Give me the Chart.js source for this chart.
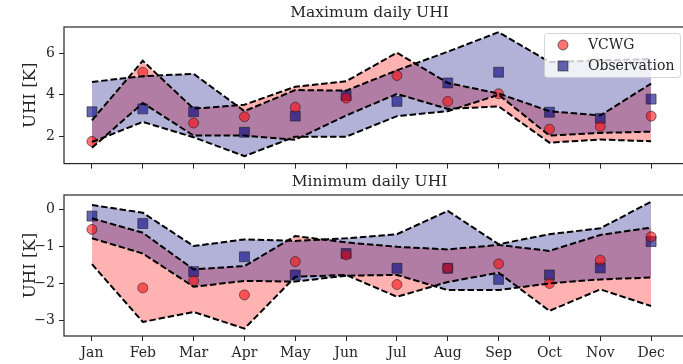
<!DOCTYPE html>
<html>
<head>
<meta charset="utf-8">
<script src="https://cdn.jsdelivr.net/npm/chart.js"></script>
<style>
  body { margin: 0; background: #fff; }
  #wrap { position: relative; width: 683px; height: 364px; overflow: hidden; }
  canvas { position: absolute; left: 0; }
  #maxChart { top: 0; }
  #minChart { top: 164px; }
</style>
</head>
<body>
<div id="wrap">
  <canvas id="maxChart" width="683" height="176"></canvas>
  <canvas id="minChart" width="683" height="200"></canvas>
</div>
<script>
const months = ['Jan', 'Feb', 'Mar', 'Apr', 'May', 'Jun', 'Jul', 'Aug', 'Sep', 'Oct', 'Nov', 'Dec'];

// maximum daily UHI [K]
const vcwgMax = [1.75, 5.09, 2.64, 2.94, 3.40, 3.84, 4.93, 3.68, 4.05, 2.34, 2.47, 2.97];
const obsMax = [3.18, 3.32, 3.18, 2.19, 2.97, 3.96, 3.68, 4.57, 5.09, 3.16, 2.86, 3.79];
const vcwgMaxHi = [2.77, 5.64, 3.33, 3.52, 4.39, 4.65, 6.03, 4.57, 4.06, 3.21, 3.00, 4.54];
const vcwgMaxLo = [1.44, 3.60, 2.03, 2.03, 1.83, 3.00, 4.04, 3.32, 3.44, 1.69, 1.84, 1.76];
const obsMaxHi = [4.62, 4.90, 5.01, 3.21, 4.23, 4.20, 5.18, 6.08, 7.02, 5.58, 5.66, 5.73];
const obsMaxLo = [1.72, 2.69, 1.95, 1.04, 1.98, 1.98, 2.97, 3.21, 4.00, 2.03, 2.16, 2.22];

// minimum daily UHI [K]
const vcwgMin = [-0.55, -2.13, -1.94, -2.32, -1.42, -1.24, -2.04, -1.60, -1.48, -2.01, -1.38, -0.75];
const obsMin = [-0.19, -0.39, -1.69, -1.29, -1.78, -1.20, -1.60, -1.60, -1.90, -1.78, -1.59, -0.88];
const vcwgMinHi = [-0.25, -0.64, -1.63, -1.54, -0.73, -0.90, -1.02, -1.09, -0.97, -1.13, -0.70, -0.50];
const vcwgMinLo = [-1.49, -3.05, -2.78, -3.23, -1.83, -1.78, -2.37, -1.97, -1.72, -2.75, -2.17, -2.62];
const obsMinHi = [0.11, -0.10, -1.00, -0.82, -0.86, -0.79, -0.68, -0.05, -0.95, -0.68, -0.52, 0.20];
const obsMinLo = [-0.79, -1.20, -2.10, -1.94, -1.96, -1.80, -1.78, -2.19, -2.19, -2.01, -1.90, -1.85];

const FONT = 'DejaVu Serif';
const INK = '#262626';
const RED_PT = 'rgba(255, 0, 0, 0.55)';
const BLUE_PT = 'rgba(0, 0, 128, 0.6)';
const EDGE = 'rgba(30, 30, 30, 0.6)';

const pts = vals => vals.map((v, i) => ({ x: i, y: v }));

function band(vals, fillColor, order, fillNext) {
  return {
    data: pts(vals),
    borderColor: '#000',
    borderWidth: 2,
    borderDash: [6.5, 2.8],
    pointRadius: 0,
    tension: 0,
    fill: fillNext ? '+1' : false,
    backgroundColor: fillColor,
    order
  };
}

function makeDatasets(vcwg, obs, vHi, vLo, oHi, oLo) {
  return [
    { label: 'VCWG', data: pts(vcwg), showLine: false, pointStyle: 'circle', pointRadius: 5,
      backgroundColor: RED_PT, borderColor: EDGE, borderWidth: 1, order: 4 },
    { label: 'Observation', data: pts(obs), showLine: false, pointStyle: 'rect', pointRadius: 7,
      backgroundColor: BLUE_PT, borderColor: EDGE, borderWidth: 1, order: 5 },
    band(vHi, 'rgba(255, 0, 0, 0.3)', 3, true),
    band(vLo, 'rgba(255, 0, 0, 0.3)', 3, false),
    band(oHi, 'rgba(0, 0, 128, 0.3)', 2, true),
    band(oLo, 'rgba(0, 0, 128, 0.3)', 2, false)
  ];
}

function makeScales(yMin, yMax, step, showMonths, xHeight) {
  return {
    x: {
      type: 'linear', min: -0.55, max: 11.47,
      afterFit(s) { s.height = xHeight; },
      border: { display: false },
      grid: { drawOnChartArea: false, drawTicks: true, tickLength: 5, color: INK, lineWidth: 1 },
      ticks: {
        display: showMonths, stepSize: 1, includeBounds: false, autoSkip: false, maxRotation: 0,
        padding: 4, color: INK, font: { family: FONT, size: 14 },
        callback: v => months[v]
      }
    },
    y: {
      min: yMin, max: yMax,
      afterFit(s) { s.width = 64; },
      border: { display: false },
      grid: { drawOnChartArea: false, drawTicks: true, tickLength: 5, color: INK, lineWidth: 1 },
      ticks: {
        stepSize: step, includeBounds: false, padding: 4, color: INK,
        font: { family: FONT, size: 14 },
        callback: v => String(v).replace('-', '\u2212')
      },
      title: {
        display: true, text: 'UHI [K]', color: INK,
        font: { family: FONT, size: 16.5 }, padding: { top: 21, bottom: 0 }
      }
    }
  };
}

// axes box drawn over the data like matplotlib spines
const frame = {
  id: 'frame',
  afterDatasetsDraw(chart) {
    const { ctx, chartArea: a } = chart;
    ctx.save();
    ctx.strokeStyle = INK;
    ctx.lineWidth = 1.2;
    ctx.strokeRect(a.left, a.top, a.right - a.left + 10, a.bottom - a.top);
    ctx.restore();
  }
};

// framed legend in the upper right corner of the max panel
const markerLegend = {
  id: 'markerLegend',
  afterDraw(chart) {
    const ctx = chart.ctx;
    const x = 544, y = 33, w = 136, h = 44;
    ctx.save();
    ctx.beginPath();
    ctx.roundRect(x + 0.5, y + 0.5, w, h, 3);
    ctx.fillStyle = 'rgba(255, 255, 255, 0.8)';
    ctx.fill();
    ctx.strokeStyle = 'rgba(204, 204, 204, 0.8)';
    ctx.lineWidth = 1;
    ctx.stroke();

    const [vc, ob] = chart.data.datasets;
    ctx.lineWidth = 1;
    ctx.strokeStyle = EDGE;
    ctx.fillStyle = vc.backgroundColor;
    ctx.beginPath();
    ctx.arc(x + 19, y + 12, vc.pointRadius, 0, Math.PI * 2);
    ctx.fill();
    ctx.stroke();
    const s = ob.pointRadius * Math.SQRT1_2;
    ctx.fillStyle = ob.backgroundColor;
    ctx.fillRect(x + 19 - s, y + 33 - s, 2 * s, 2 * s);
    ctx.strokeRect(x + 19 - s, y + 33 - s, 2 * s, 2 * s);

    ctx.fillStyle = INK;
    ctx.font = '14px "' + FONT + '"';
    ctx.textBaseline = 'middle';
    ctx.fillText(vc.label, x + 44, y + 12);
    ctx.fillText(ob.label, x + 44, y + 33);
    ctx.restore();
  }
};

function makeChart(id, title, titlePad, datasets, scales, extra) {
  return new Chart(id, {
    type: 'line',
    data: { datasets },
    options: {
      responsive: false,
      animation: false,
      events: [],
      layout: { padding: 0 },
      scales,
      plugins: {
        legend: { display: false },
        tooltip: { enabled: false },
        filler: { drawTime: 'beforeDatasetsDraw' },
        title: {
          display: true, text: title, color: INK, fullSize: false,
          font: { family: FONT, size: 15.5, weight: 'normal' },
          padding: titlePad
        }
      }
    },
    plugins: [frame].concat(extra)
  });
}

makeChart('maxChart', 'Maximum daily UHI', { top: 4, bottom: 4.4 },
  makeDatasets(vcwgMax, obsMax, vcwgMaxHi, vcwgMaxLo, obsMaxHi, obsMaxLo),
  makeScales(0.68, 7.27, 2, false, 9), [markerLegend]);

makeChart('minChart', 'Minimum daily UHI', { top: 9, bottom: 3.4 },
  makeDatasets(vcwgMin, obsMin, vcwgMinHi, vcwgMinLo, obsMinHi, obsMinLo),
  makeScales(-3.43, 0.38, 1, true, 28), []);
</script>
</body>
</html>
